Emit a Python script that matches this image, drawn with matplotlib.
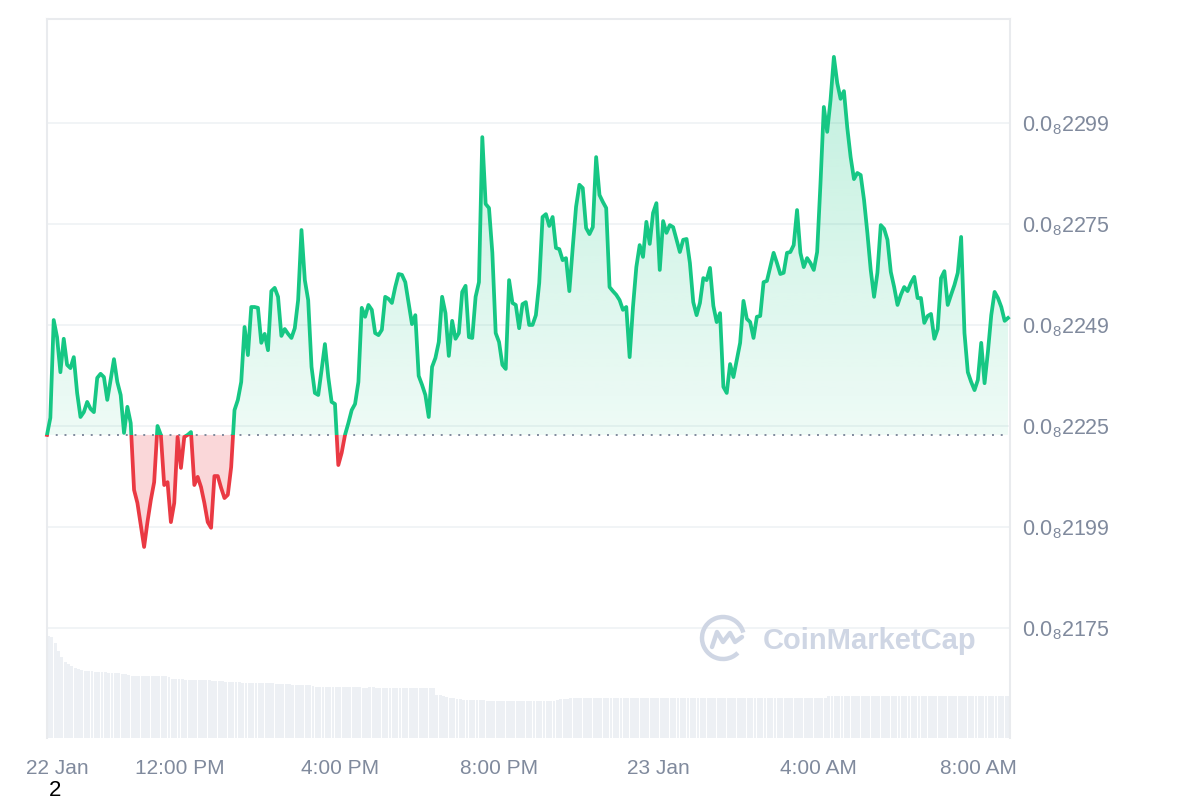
import numpy as np
import matplotlib
matplotlib.use("Agg")
import matplotlib.pyplot as plt
from matplotlib.path import Path
from matplotlib.patches import Rectangle, Arc

plt.rcParams["font.family"] = ["Liberation Sans", "DejaVu Sans"]
plt.rcParams["mathtext.default"] = "regular"

# price in units of 1e-8 (label "0.0_8 2249" = 0.000000002249)
price = np.array([
    2222.4, 2226.6, 2250.6, 2246.4, 2237.8, 2246.0, 2239.6, 2238.8, 2241.5, 2232.7, 2226.8, 2228.0,
    2230.5, 2228.8, 2228.0, 2236.4, 2237.4, 2236.6, 2231.0, 2235.9, 2241.0, 2235.4, 2232.2, 2222.9,
    2229.3, 2225.3, 2208.9, 2205.7, 2200.3, 2194.9, 2201.0, 2206.4, 2210.8, 2224.6, 2222.4, 2210.1,
    2210.8, 2201.0, 2205.7, 2221.9, 2214.3, 2221.9, 2222.4, 2223.1, 2210.1, 2212.1, 2209.6, 2205.7,
    2201.0, 2199.6, 2212.3, 2212.3, 2209.4, 2206.9, 2207.7, 2214.5, 2228.5, 2231.0, 2235.4, 2248.9,
    2242.0, 2253.8, 2253.8, 2253.6, 2245.0, 2247.2, 2243.2, 2257.7, 2258.5, 2256.3, 2246.7, 2248.4,
    2247.2, 2246.2, 2248.6, 2255.5, 2272.7, 2260.4, 2255.5, 2239.1, 2232.7, 2232.2, 2238.3, 2244.7,
    2236.6, 2230.5, 2230.0, 2215.0, 2218.0, 2222.4, 2225.3, 2228.5, 2230.0, 2235.4, 2253.6, 2251.4,
    2254.3, 2253.1, 2247.4, 2246.9, 2248.2, 2256.3, 2255.8, 2254.8, 2258.7, 2261.9, 2261.7, 2259.9,
    2254.8, 2249.6, 2251.8, 2236.9, 2234.7, 2232.2, 2226.8, 2239.1, 2241.3, 2245.2, 2256.3, 2252.3,
    2241.8, 2250.4, 2246.0, 2247.4, 2257.5, 2259.0, 2246.4, 2246.2, 2256.3, 2259.9, 2295.5, 2279.1,
    2278.1, 2267.1, 2247.4, 2245.2, 2239.6, 2238.6, 2260.4, 2254.8, 2254.3, 2248.6, 2254.5, 2255.0,
    2249.4, 2249.4, 2251.8, 2259.7, 2275.9, 2276.6, 2273.7, 2275.9, 2268.3, 2268.0, 2265.3, 2265.8,
    2257.7, 2268.3, 2278.4, 2283.8, 2283.0, 2273.2, 2271.7, 2273.4, 2290.6, 2281.3, 2279.6, 2278.1,
    2258.7, 2257.7, 2256.8, 2255.5, 2253.1, 2253.8, 2241.5, 2253.8, 2263.6, 2269.0, 2266.1, 2274.7,
    2269.3, 2276.9, 2279.3, 2262.9, 2274.9, 2272.0, 2273.9, 2273.4, 2270.3, 2267.3, 2270.3, 2270.5,
    2264.6, 2255.0, 2251.8, 2254.8, 2260.9, 2260.4, 2263.4, 2254.1, 2250.1, 2252.3, 2234.2, 2232.7,
    2239.8, 2236.6, 2240.8, 2245.0, 2255.3, 2250.9, 2250.1, 2246.2, 2251.4, 2251.6, 2259.9, 2260.2,
    2263.6, 2267.1, 2264.6, 2261.9, 2262.2, 2267.1, 2267.3, 2269.0, 2277.6, 2267.1, 2263.6, 2265.8,
    2264.6, 2262.9, 2267.3, 2284.2, 2302.9, 2296.8, 2304.6, 2315.2, 2308.8, 2304.9, 2306.8, 2297.8,
    2290.6, 2285.2, 2286.7, 2286.2, 2280.1, 2272.0, 2262.9, 2256.3, 2262.2, 2273.9, 2273.0, 2270.3,
    2262.4, 2258.7, 2254.3, 2256.8, 2258.7, 2257.7, 2259.7, 2261.2, 2256.0, 2256.0, 2249.9, 2251.6,
    2252.1, 2246.0, 2248.4, 2260.9, 2262.6, 2254.3, 2256.8, 2259.2, 2262.2, 2271.0, 2247.4, 2237.8,
    2235.4, 2233.4, 2235.9, 2245.0, 2235.1, 2242.8, 2251.8, 2257.5, 2256.0, 2253.8, 2250.4, 2251.1,
])

# relative 24h volume (arbitrary units)
volume = np.array([
    102, 101, 95, 87, 81, 76, 74, 72, 70, 69, 68, 67,
    67, 67, 66, 66, 66, 66, 65, 65, 65, 65, 64, 64,
    63, 62, 62, 62, 62, 62, 62, 62, 62, 62, 62, 62,
    61, 59, 59, 59, 59, 58, 58, 58, 58, 58, 58, 58,
    58, 57, 57, 57, 57, 56, 56, 56, 56, 56, 55, 55,
    55, 55, 55, 55, 55, 55, 55, 55, 54, 54, 54, 54,
    54, 53, 53, 53, 53, 53, 53, 52, 51, 51, 51, 51,
    51, 51, 51, 51, 51, 51, 51, 51, 51, 51, 50, 50,
    51, 51, 50, 50, 50, 50, 50, 50, 50, 50, 50, 50,
    50, 50, 50, 50, 50, 50, 50, 50, 43, 43, 42, 41,
    40, 40, 39, 39, 38, 38, 38, 38, 38, 38, 38, 37,
    37, 37, 37, 37, 37, 37, 37, 37, 37, 37, 37, 37,
    37, 37, 37, 37, 37, 37, 37, 37, 38, 39, 39, 39,
    40, 40, 40, 40, 40, 40, 40, 40, 40, 40, 40, 40,
    40, 40, 40, 40, 40, 40, 40, 40, 40, 40, 40, 40,
    40, 40, 40, 40, 40, 40, 40, 40, 40, 40, 40, 40,
    40, 40, 40, 40, 40, 40, 40, 40, 40, 40, 40, 40,
    40, 40, 40, 40, 40, 40, 40, 40, 40, 40, 40, 40,
    40, 40, 40, 40, 40, 40, 40, 40, 40, 40, 40, 40,
    40, 40, 40, 40, 40, 42, 42, 42, 42, 42, 42, 42,
    42, 42, 42, 42, 42, 42, 42, 42, 42, 42, 42, 42,
    42, 42, 42, 42, 42, 42, 42, 42, 42, 42, 42, 42,
    42, 42, 42, 42, 42, 42, 42, 42, 42, 42, 42, 42,
    42, 42, 42, 42, 42, 42, 42, 42, 42, 42, 42, 42,
])

# hours since 22 Jan 00:00, 08:40 -> 08:45 next day
start_h, end_h = 8 + 40 / 60, 32 + 45 / 60
hours = np.linspace(start_h, end_h, len(price))
vol_hours = np.linspace(start_h, end_h, len(volume))
base = price[0]

ytick_vals = [2175, 2199.8, 2224.6, 2249.4, 2274.2, 2299]
ytick_labels = ["0.0$_8$2175", "0.0$_8$2199", "0.0$_8$2225",
                "0.0$_8$2249", "0.0$_8$2275", "0.0$_8$2299"]
xtick_vals = [8.92, 12, 16, 20, 24, 28, 32]
xtick_labels = ["22 Jan", "12:00 PM", "4:00 PM", "8:00 PM", "23 Jan", "4:00 AM", "8:00 AM"]

GREEN = "#16c784"
RED = "#ea3943"
GREY = "#808a9d"

fig = plt.figure(figsize=(12, 8), dpi=100)
rect = [47 / 1200, 62 / 800, 963 / 1200, 719 / 800]
vax = fig.add_axes(rect)
ax = fig.add_axes(rect, sharex=vax)
ax.patch.set_alpha(0)

# volume bars
vax.bar(vol_hours, volume, width=0.072, align="edge", color="#edf0f4", linewidth=0)
vax.set_ylim(0, 719)
vax.axis("off")

# green area with vertical gradient
green_poly = ax.fill_between(hours, price, base, where=price >= base, interpolate=True,
                             facecolor="none", edgecolor="none")
clip = Path.make_compound_path(*green_poly.get_paths())
grad = np.zeros((256, 1, 4))
grad[..., :3] = matplotlib.colors.to_rgb(GREEN)
grad[..., 3] = np.linspace(0.07, 0.27, 256)[:, None]
im = ax.imshow(grad, extent=[start_h, end_h, base, price.max()], origin="lower",
               aspect="auto", zorder=1, interpolation="bilinear")
im.set_clip_path(clip, ax.transData)

# red area
ax.fill_between(hours, price, base, where=price <= base, interpolate=True,
                facecolor=RED, alpha=0.2, edgecolor="none", zorder=1)

ax.axhline(base, color=GREY, lw=1.4, ls=(0, (1, 3.5)), zorder=2)

ln_g, = ax.plot(hours, price, color=GREEN, lw=2.7, solid_joinstyle="round", zorder=4)
ln_g.set_clip_path(Rectangle((0, base), 40, 500, transform=ax.transData))
ln_r, = ax.plot(hours, price, color=RED, lw=2.7, solid_joinstyle="round", zorder=4)
ln_r.set_clip_path(Rectangle((0, base - 500), 40, 500, transform=ax.transData))

ax.set_xlim(start_h, 32.80)
ax.set_ylim(2148.0, 2324.5)

ax.set_yticks(ytick_vals)
ax.set_yticklabels(ytick_labels)
ax.yaxis.tick_right()
ax.yaxis.grid(True, color="#eff2f5", lw=1.2)
ax.set_axisbelow(True)
ax.set_xticks(xtick_vals)
ax.set_xticklabels(xtick_labels)
ax.tick_params(axis="y", length=0, pad=9, labelsize=15.5, labelcolor=GREY)
ax.tick_params(axis="x", length=0, pad=15, labelsize=15, labelcolor=GREY)

for side in ["left", "top", "right"]:
    ax.spines[side].set_color("#e9ebee")
    ax.spines[side].set_linewidth(1.5)
ax.spines["bottom"].set_visible(False)

# watermark
wm = "#cfd6e4"
fig.text(763 / 1200, 1 - 641 / 800, "CoinMarketCap", fontsize=21, fontweight="bold",
         color=wm, ha="left", va="center")
lax = fig.add_axes([699 / 1200, 1 - 662 / 800, 48 / 1200, 48 / 800])
lax.set_xlim(-24, 24)
lax.set_ylim(-24, 24)
lax.axis("off")
lax.add_patch(Arc((0, 0), 42, 42, theta1=15, theta2=315, lw=3.2, color=wm))
lax.plot([-11, -6, 0, 7, 12, 19], [-9, 6, -4, 5, -4, 1], color=wm, lw=3.2,
         solid_joinstyle="round", solid_capstyle="round")

fig.text(55 / 1200, 1 - 790 / 800, "2", fontsize=16, color="black", ha="center", va="center")

fig.savefig("out.png", dpi=100)
